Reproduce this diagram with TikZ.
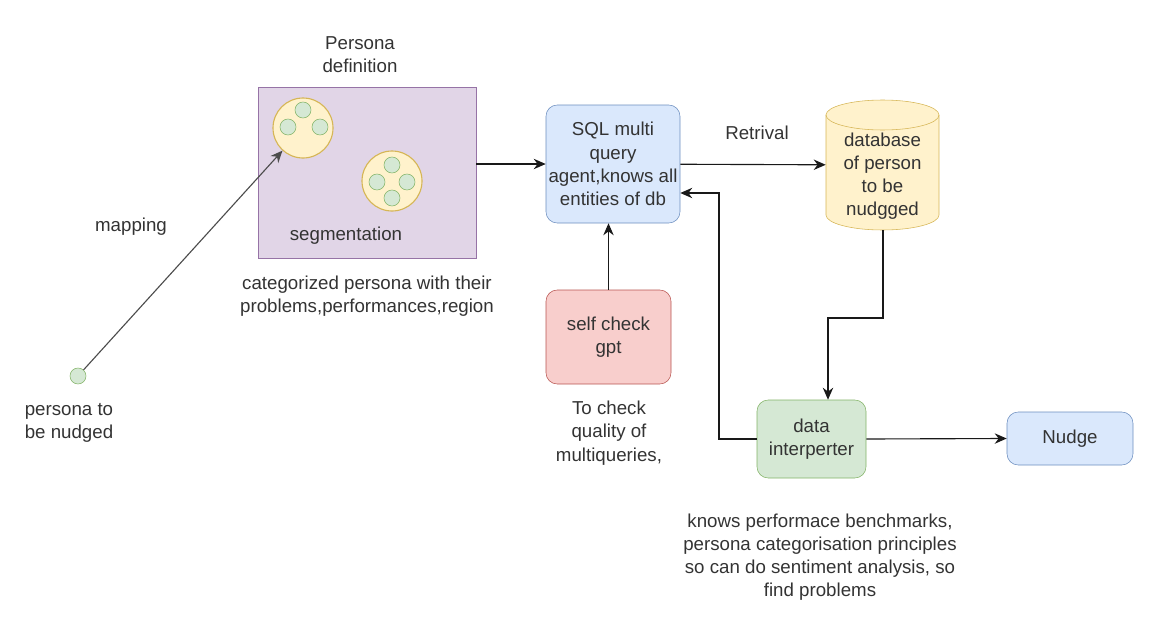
\documentclass[tikz,border=0pt]{standalone}
\usepackage{fontspec}
\setmainfont{Liberation Sans}
\usetikzlibrary{arrows.meta, positioning}

\definecolor{purplefill}{HTML}{E1D5E7}
\definecolor{purpleline}{HTML}{9673A6}
\definecolor{yellowfill}{HTML}{FFF2CC}
\definecolor{yellowline}{HTML}{D6B656}
\definecolor{greenfill}{HTML}{D5E8D4}
\definecolor{greenline}{HTML}{82B366}
\definecolor{bluefill}{HTML}{DAE8FC}
\definecolor{blueline}{HTML}{6C8EBF}
\definecolor{redfill}{HTML}{F8CECC}
\definecolor{redline}{HTML}{B85450}
\definecolor{txt}{HTML}{333333}

\tikzset{
    label text/.style={font=\fontsize{13.3}{16.5}\selectfont, text=txt, align=center, inner sep=0pt},
    roundbox/.style={draw, rounded corners=8pt, label text},
    flow/.style={-{Stealth[length=3mm, width=2.6mm]}, thick, black!90},
    dot/.style={circle, draw=greenline, fill=greenfill, minimum size=16*0.025cm, inner sep=0pt},
    group/.style={circle, draw=yellowline, fill=yellowfill, thick, minimum size=60*0.025cm, inner sep=0pt},
}

\begin{document}
\begin{tikzpicture}[x=0.025cm, y=-0.025cm]
    \def\px{0.025cm}
    \useasboundingbox (0,0) rectangle (1152,631);

    % Persona definition block with its segments
    \node[draw=purpleline, fill=purplefill, minimum width=218*\px, minimum height=171*\px, inner sep=0pt] (persona) at (367,172.5) {};
    \node[label text] (personatitle) at (360,55) {Persona\\definition};
    \node[group] (seg1) at (303,128) {};
    \node[group] (seg2) at (392,181) {};
    \foreach \x/\y in {303/110, 288/127, 320/127}
        \node[dot] at (\x,\y) {};
    \foreach \x/\y in {392/165, 377/182, 407/182, 392/198}
        \node[dot] at (\x,\y) {};
    \node[label text] (segtext) at (346,236) {segmentation};
    \node[label text] (categorized) at (367,296) {categorized persona with their\\problems,performances,region};

    % Persona to be nudged
    \node[dot] (single) at (78,376) {};
    \node[label text, align=left] (singletext) at (69,423) {persona to\\be nudged};
    \node[label text] (maptext) at (131,227) {mapping};
    \draw[flow, black!70] (single) -- (seg1);

    % SQL agent and database
    \node[roundbox, draw=blueline, fill=bluefill, minimum width=134*\px, minimum height=118*\px] (sql) at (613,164) {SQL multi\\query\\agent,knows all\\entities of db};
    \node[minimum width=113*\px, minimum height=130*\px, inner sep=0pt] (db) at (882.5,165) {};
    % cylinder drawn by hand
    \filldraw[draw=yellowline, fill=yellowfill] (826,115) -- (826,215) arc (180:0:56.5 and 15)
        -- (939,115) arc (0:-180:56.5 and 15) -- cycle;
    \draw[yellowline] (826,115) arc (180:0:56.5 and 15);
    \node[label text] (dbtext) at (882.5,176) {database\\of person\\to be\\nudgged};
    \node[label text] (retrival) at (757,133) {Retrival};
    \draw[flow] (persona.east |- sql) -- (sql);
    \draw[flow] (sql) -- (db);

    % Self check
    \node[roundbox, draw=redline, fill=redfill, minimum width=125*\px, minimum height=94*\px] (check) at (608.5,337) {self check\\gpt};
    \node[label text] (checktext) at (609,433) {To check\\quality of\\multiqueries,};
    \draw[flow] (check) -- (check |- sql.south);

    % Interpreter and nudge
    \node[roundbox, draw=greenline, fill=greenfill, minimum width=109*\px, minimum height=78*\px] (interp) at (811.5,439) {data\\interperter};
    \node[roundbox, draw=blueline, fill=bluefill, minimum width=126*\px, minimum height=53*\px] (nudge) at (1070,438.5) {Nudge};
    \node[label text] (interptext) at (820,557) {knows performace benchmarks,\\persona categorisation principles\\so can do sentiment analysis, so\\find problems};
    \coordinate (dbturn) at (883,318);
    \coordinate (downturn) at (828,318);
    \coordinate (backturn) at (719,193);
    \draw[flow] (db.south -| dbturn) -- (dbturn) -- (downturn) -- (downturn |- interp.north);
    \draw[flow] (interp.west) -| (backturn) -- (backturn -| sql.east);
    \draw[flow] (interp.east) -- (nudge.west);
\end{tikzpicture}
\end{document}
